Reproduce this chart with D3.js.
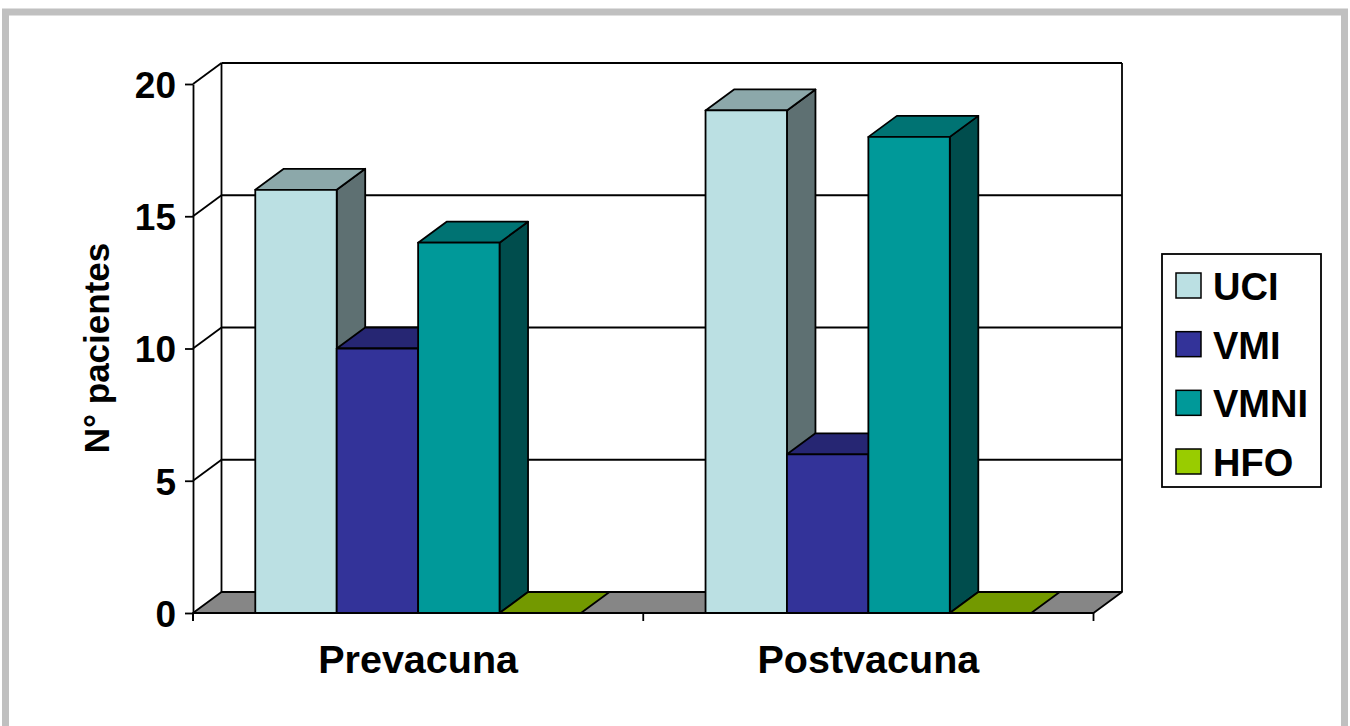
<!DOCTYPE html>
<html>
<head>
<meta charset="utf-8">
<script src="https://cdn.jsdelivr.net/npm/d3@7"></script>
<style>
  html, body { margin: 0; padding: 0; background: #fff; }
  svg { display: block; }
  text { font-family: "Liberation Sans", Arial, sans-serif; font-weight: bold; fill: #000; }
</style>
</head>
<body>
<svg id="chart" width="1350" height="726"></svg>
<script>
// Data
const categories = ["Prevacuna", "Postvacuna"];
const seriesNames = ["UCI", "VMI", "VMNI", "HFO"];
const uciValues  = [16, 19];
const vmiValues  = [10, 6];
const vmniValues = [14, 18];
const hfoValues  = [0, 0];
const yTicks = [0, 5, 10, 15, 20];
const yTitle = "N° pacientes";

const seriesValues = [uciValues, vmiValues, vmniValues, hfoValues];
// front / top / side shades for each series
const seriesColors = [
  { front: "#BBE0E3", top: "#8CA8AA", side: "#5E7072" },
  { front: "#333399", top: "#262673", side: "#1A1A4D" },
  { front: "#009999", top: "#007373", side: "#004D4D" },
  { front: "#99CC00", top: "#739900", side: "#4D6600" }
];

const svg = d3.select("#chart");

// Outer grey frame
svg.append("rect").attr("x", 5.5).attr("y", 12).attr("width", 1339).attr("height", 730)
  .attr("fill", "none").attr("stroke", "#C0C0C0").attr("stroke-width", 7);

// Plot geometry (front plane + depth offset)
const dx = 28.5, dy = 21;
const x0 = d3.scaleBand().domain(categories).range([193, 1093.5]);
const x1 = d3.scaleBand().domain(seriesNames).range([0, x0.bandwidth()]).paddingOuter(0.765);
const y = d3.scaleLinear().domain([0, 20]).range([613, 84]);
const xL = x0.range()[0], xR = x0.range()[1];
const y0 = y(0);

const lineW = 1.8;
const walls = svg.append("g").attr("fill", "none").attr("stroke", "#000").attr("stroke-width", lineW);

// Back wall gridlines
yTicks.filter(t => t > 0).forEach(t => {
  walls.append("line").attr("x1", xL + dx).attr("x2", xR + dx)
    .attr("y1", y(t) - dy).attr("y2", y(t) - dy);
});
// Side wall gridlines (diagonals)
yTicks.filter(t => t > 0).forEach(t => {
  walls.append("line").attr("x1", xL).attr("y1", y(t))
    .attr("x2", xL + dx).attr("y2", y(t) - dy);
});
// Wall edges
walls.append("line").attr("x1", xL + dx).attr("x2", xL + dx).attr("y1", y(20) - dy).attr("y2", y0 - dy);
walls.append("line").attr("x1", xR + dx).attr("x2", xR + dx).attr("y1", y(20) - dy).attr("y2", y0 - dy);

// Floor
const floorPts = [[xL, y0], [xR, y0], [xR + dx, y0 - dy], [xL + dx, y0 - dy]];
svg.append("polygon").attr("points", floorPts.map(p => p.join(",")).join(" "))
  .attr("fill", "#868686").attr("stroke", "#000").attr("stroke-width", lineW)
  .attr("stroke-linejoin", "round");

// Bars drawn left to right so each front face covers the previous side face
const bars = svg.append("g").attr("stroke", "#000").attr("stroke-width", lineW).attr("stroke-linejoin", "round");
categories.forEach((cat, ci) => {
  seriesNames.forEach((s, si) => {
    const v = seriesValues[si][ci];
    const c = seriesColors[si];
    const xa = x0(cat) + x1(s), xb = xa + x1.bandwidth();
    const yt = y(v);
    const poly = pts => pts.map(p => p.join(",")).join(" ");
    if (v > 0) {
      bars.append("polygon").attr("fill", c.side)
        .attr("points", poly([[xb, yt], [xb + dx, yt - dy], [xb + dx, y0 - dy], [xb, y0]]));
    }
    bars.append("polygon").attr("fill", c.top)
      .attr("points", poly([[xa, yt], [xb, yt], [xb + dx, yt - dy], [xa + dx, yt - dy]]));
    if (v > 0) {
      bars.append("rect").attr("fill", c.front)
        .attr("x", xa).attr("y", yt).attr("width", xb - xa).attr("height", y0 - yt);
    }
  });
});

// Front floor edge drawn on top
svg.append("line").attr("x1", xL).attr("x2", xR).attr("y1", y0).attr("y2", y0)
  .attr("stroke", "#000").attr("stroke-width", lineW);

// Y axis
const yAxis = svg.append("g").attr("transform", `translate(${xL},0)`)
  .call(d3.axisLeft(y).tickValues(yTicks).tickSize(8).tickSizeOuter(0).tickPadding(9));
yAxis.select(".domain").attr("stroke", "#000").attr("stroke-width", lineW);
yAxis.selectAll(".tick line").attr("stroke", "#000").attr("stroke-width", lineW);
yAxis.selectAll(".tick text").style("font-size", "37px").style("font-family", "Liberation Sans, Arial, sans-serif")
  .style("font-weight", "bold").attr("dy", "0.36em");
// extend axis line down to the category tick
svg.append("line").attr("x1", xL).attr("x2", xL).attr("y1", y0).attr("y2", y0 + 8)
  .attr("stroke", "#000").attr("stroke-width", lineW);

// X axis: labels centred in each category, ticks on category boundaries
const xAxis = svg.append("g").attr("transform", `translate(0,${y0})`)
  .call(d3.axisBottom(x0).tickSize(0).tickPadding(32));
xAxis.select(".domain").remove();
xAxis.selectAll(".tick text").style("font-size", "39.5px").style("font-family", "Liberation Sans, Arial, sans-serif")
  .style("font-weight", "bold");
const boundaries = categories.map(c => x0(c)).concat([xR]);
svg.append("g").selectAll("line").data(boundaries).join("line")
  .attr("x1", d => d).attr("x2", d => d).attr("y1", y0).attr("y2", y0 + 8)
  .attr("stroke", "#000").attr("stroke-width", lineW);

// Y axis title
svg.append("text").attr("transform", "translate(109,348) rotate(-90)")
  .attr("text-anchor", "middle").style("font-size", "35px").text(yTitle);

// Legend
const legend = svg.append("g");
legend.append("rect").attr("x", 1162).attr("y", 254).attr("width", 159).attr("height", 233)
  .attr("fill", "#fff").attr("stroke", "#000").attr("stroke-width", 1.8);
const legY = d3.scalePoint().domain(seriesNames).range([273, 449]);
seriesNames.forEach((s, i) => {
  legend.append("rect").attr("x", 1176).attr("y", legY(s)).attr("width", 25).attr("height", 25)
    .attr("fill", seriesColors[i].front).attr("stroke", "#000").attr("stroke-width", 1.5);
  legend.append("text").attr("x", 1213).attr("y", legY(s) + 27)
    .style("font-size", "38px").text(s);
});
</script>
</body>
</html>
